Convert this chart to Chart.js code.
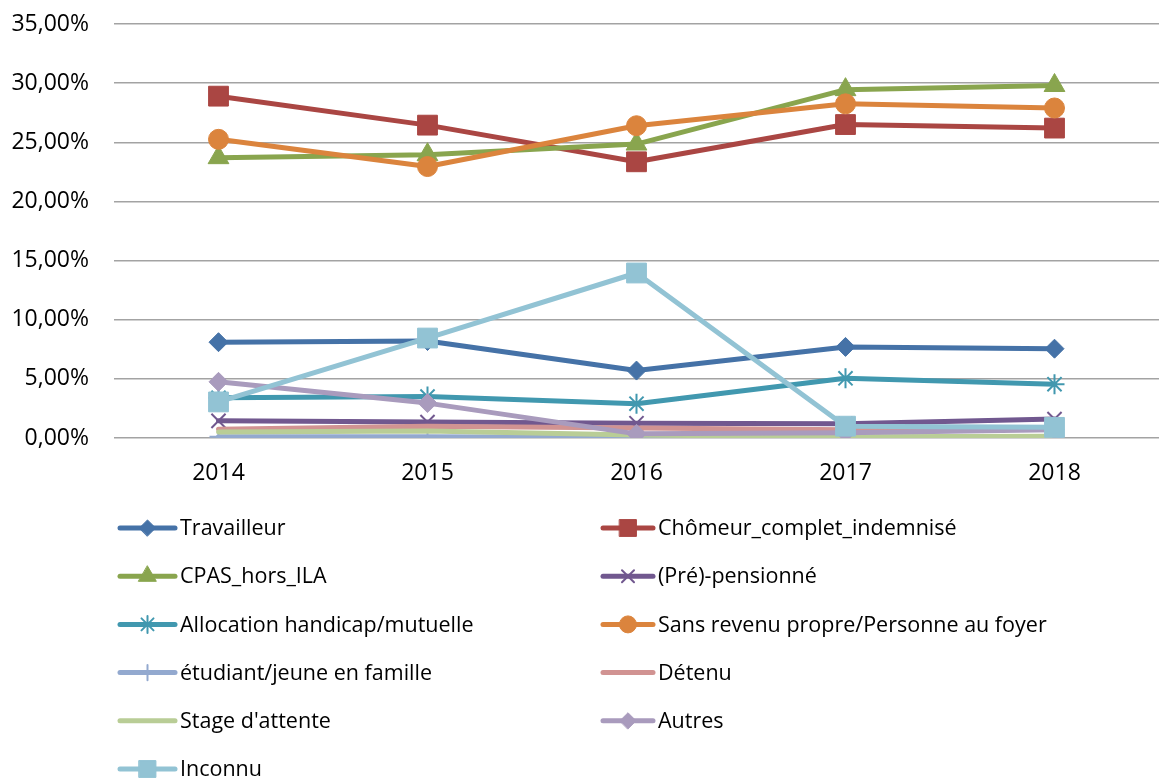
<!DOCTYPE html>
<html>
<head>
<meta charset="utf-8">
<script src="https://cdn.jsdelivr.net/npm/chart.js@4/dist/chart.umd.min.js"></script>
<style>
    html, body { margin: 0; padding: 0; background: #fff; overflow: hidden; }
    #wrap { width: 1174px; height: 778px; }
</style>
</head>
<body>
<div id="wrap"><canvas id="statutChart"></canvas></div>
<script>
// Data (percentages)
const years = ['2014', '2015', '2016', '2017', '2018'];
const seriesNames = [
    'Travailleur', 'Chômeur_complet_indemnisé', 'CPAS_hors_ILA', '(Pré)-pensionné',
    'Allocation handicap/mutuelle', 'Sans revenu propre/Personne au foyer',
    'étudiant/jeune en famille', 'Détenu', "Stage d'attente", 'Autres', 'Inconnu'
];
const travailleur = [8.1, 8.2, 5.7, 7.7, 7.55];
const chomeur = [28.9, 26.45, 23.35, 26.5, 26.2];
const cpas = [23.7, 23.95, 24.85, 29.45, 29.8];
const prePension = [1.45, 1.35, 1.25, 1.2, 1.6];
const allocation = [3.4, 3.5, 2.9, 5.05, 4.55];
const sansRevenu = [25.25, 22.95, 26.4, 28.25, 27.9];
const etudiant = [0.1, 0.1, 0.05, 0.05, 0.05];
const detenu = [0.75, 1.0, 0.85, 0.7, 0.75];
const stage = [0.5, 0.6, 0.25, 0.1, 0.15];
const autres = [4.75, 2.95, 0.35, 0.45, 0.7];
const inconnu = [3.05, 8.45, 13.95, 1.0, 0.9];
const yTicks = [0, 5, 10, 15, 20, 25, 30, 35];

const seriesValues = [travailleur, chomeur, cpas, prePension, allocation, sansRevenu,
    etudiant, detenu, stage, autres, inconnu];
const colors = ['#4572A7', '#AA4643', '#89A54E', '#71588F', '#4198AF', '#DB843D',
    '#93A9CF', '#D19392', '#B9CD96', '#A99BBD', '#92C3D4'];
const markers = ['rectRot', 'rect', 'triangle', 'crossRot', 'star', 'circle',
    'cross', false, false, 'rectRot', 'rect'];
const radii = [9.5, 14, 12, 10, 10, 10, 9, 0, 0, 9.5, 14];

const FONT = '"Open Sans", "DejaVu Sans", sans-serif';

const datasets = seriesNames.map(function(name, i) {
    const lineMarker = markers[i] === 'crossRot' || markers[i] === 'star' || markers[i] === 'cross';
    return {
        label: name,
        data: seriesValues[i],
        borderColor: colors[i],
        backgroundColor: colors[i],
        borderWidth: 5,
        borderCapStyle: 'round',
        borderJoinStyle: 'round',
        pointStyle: markers[i],
        pointRadius: markers[i] ? radii[i] : 0,
        pointBackgroundColor: colors[i],
        pointBorderColor: colors[i],
        pointBorderWidth: lineMarker ? 2 : 1,
        tension: 0,
        order: seriesNames.length - i
    };
});

// Legend in two columns, drawn on the canvas
const legendPlugin = {
    id: 'twoColLegend',
    afterDraw(chart) {
        const ctx = chart.ctx;
        const cols = [{ x0: 120, x1: 175, tx: 180 }, { x0: 603, x1: 653, tx: 658 }];
        ctx.save();
        chart.data.datasets.forEach(function(ds, i) {
            const c = cols[i % 2];
            const y = 528 + Math.floor(i / 2) * 48.2;
            ctx.strokeStyle = ds.borderColor;
            ctx.lineWidth = 5;
            ctx.lineCap = 'round';
            ctx.beginPath();
            ctx.moveTo(c.x0, y);
            ctx.lineTo(c.x1, y);
            ctx.stroke();
            if (ds.pointStyle) {
                ctx.fillStyle = ds.backgroundColor;
                ctx.strokeStyle = ds.borderColor;
                ctx.lineWidth = ds.pointBorderWidth;
                Chart.helpers.drawPoint(ctx, {
                    pointStyle: ds.pointStyle,
                    radius: ds.pointRadius * 0.85,
                    rotation: 0,
                    borderWidth: ds.pointBorderWidth
                }, (c.x0 + c.x1) / 2, y);
            }
            ctx.fillStyle = '#000';
            ctx.font = '21.5px ' + FONT;
            ctx.textAlign = 'left';
            ctx.textBaseline = 'middle';
            ctx.fillText(ds.label, c.tx, y + 1);
        });
        ctx.restore();
    }
};

const ctx = document.getElementById('statutChart').getContext('2d');
new Chart(ctx, {
    type: 'line',
    data: { labels: years, datasets: datasets },
    options: {
        responsive: true,
        maintainAspectRatio: false,
        animation: false,
        layout: { padding: 0 },
        plugins: {
            legend: { display: false },
            tooltip: { enabled: false }
        },
        scales: {
            x: {
                offset: true,
                grid: { display: false, drawTicks: false },
                border: { display: false },
                ticks: { color: '#000', font: { family: FONT, size: 23 }, padding: 22 },
                afterFit: function(scale) { scale.height = 340; }
            },
            y: {
                min: 0,
                max: 35,
                afterBuildTicks: function(scale) {
                    scale.ticks = yTicks.map(function(v) { return { value: v }; });
                },
                grid: { color: '#a3a3a3', lineWidth: 1.5, drawTicks: false },
                border: { display: false },
                ticks: {
                    color: '#000',
                    font: { family: FONT, size: 23 },
                    padding: 25,
                    callback: function(v) { return v.toFixed(2).replace('.', ',') + '%'; }
                },
                afterFit: function(scale) {
                    scale.width = 114;
                    scale.paddingTop = 24;
                }
            }
        }
    },
    plugins: [legendPlugin]
});
</script>
</body>
</html>
